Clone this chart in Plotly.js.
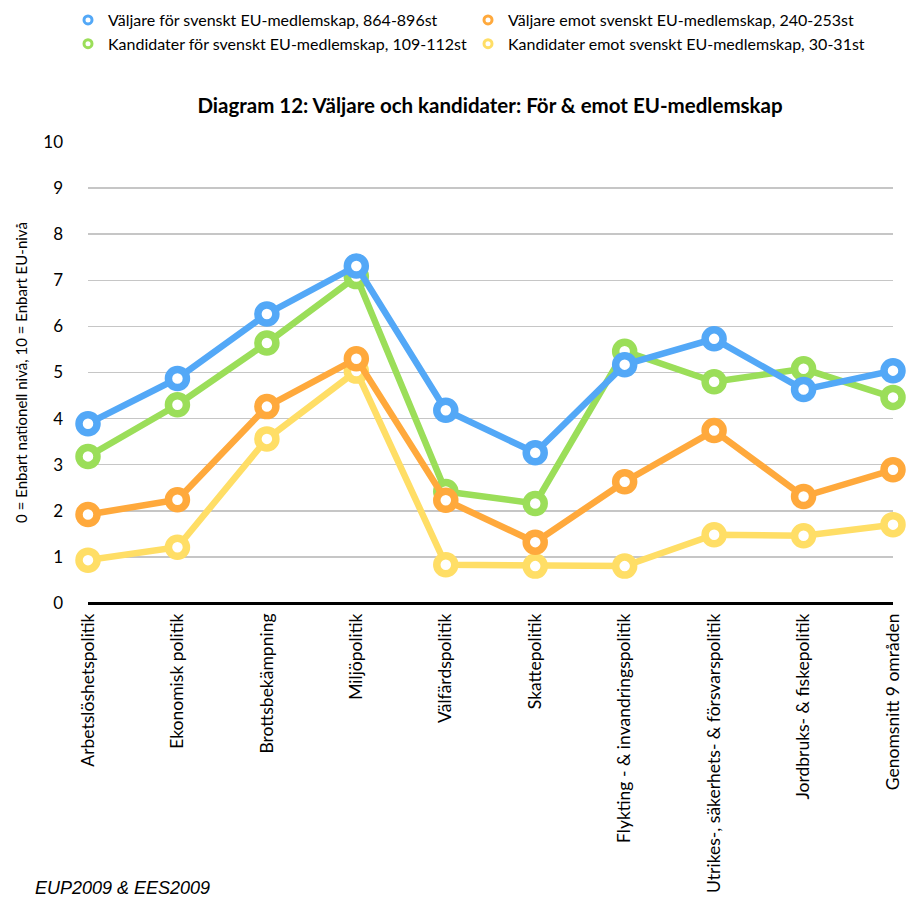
<!DOCTYPE html>
<html>
<head>
<meta charset="utf-8">
<script src="https://cdn.plot.ly/plotly-3.0.1.min.js"></script>
<style>html,body{margin:0;padding:0;background:#fff;}#chart{width:906px;height:899px;}</style>
</head>
<body>
<div id="chart"></div>
<script>
const categories = [
  "Arbetslöshetspolitik",
  "Ekonomisk politik",
  "Brottsbekämpning",
  "Miljöpolitik",
  "Välfärdspolitik",
  "Skattepolitik",
  "Flykting - & invandringspolitik",
  "Utrikes-, säkerhets- & försvarspolitik",
  "Jordbruks- & fiskepolitik",
  "Genomsnitt 9 områden"
];
const valjareFor = [3.89, 4.87, 6.27, 7.31, 4.18, 3.26, 5.17, 5.73, 4.63, 5.04];
const kandidaterFor = [3.18, 4.30, 5.64, 7.08, 2.42, 2.16, 5.46, 4.80, 5.08, 4.46];
const valjareEmot = [1.92, 2.24, 4.26, 5.30, 2.23, 1.32, 2.63, 3.74, 2.31, 2.89];
const kandidaterEmot = [0.93, 1.21, 3.56, 5.03, 0.83, 0.80, 0.80, 1.48, 1.46, 1.70];
const seriesNames = [
  "Väljare för svenskt EU-medlemskap, 864-896st",
  "Väljare emot svenskt EU-medlemskap, 240-253st",
  "Kandidater för svenskt EU-medlemskap, 109-112st",
  "Kandidater emot svenskt EU-medlemskap, 30-31st"
];
const yTicks = [0,1,2,3,4,5,6,7,8,9,10];

const colors = {blue:"#53A8F7", orange:"#FFA93C", green:"#9BDE59", yellow:"#FFDE66"};
const FONT = "Lato, 'Open Sans', sans-serif";

function lineTrace(y, color){
  return {
    x: categories, y: y, type: "scatter", mode: "lines+markers",
    showlegend: false, cliponaxis: false, hoverinfo: "skip",
    line: {color: color, width: 6.5},
    marker: {size: 18, color: "#ffffff", line: {color: color, width: 7.5}}
  };
}
function legendTrace(name, color, rank){
  return {
    x: [null], y: [null], type: "scatter", mode: "markers", name: name,
    legendrank: rank, showlegend: true,
    marker: {size: 8, color: "#ffffff", line: {color: color, width: 3}}
  };
}

const data = [
  lineTrace(kandidaterEmot, colors.yellow),
  lineTrace(kandidaterFor, colors.green),
  lineTrace(valjareEmot, colors.orange),
  lineTrace(valjareFor, colors.blue),
  legendTrace(seriesNames[0], colors.blue, 1),
  legendTrace(seriesNames[1], colors.orange, 2),
  legendTrace(seriesNames[2], colors.green, 3),
  legendTrace(seriesNames[3], colors.yellow, 4)
];

const layout = {
  width: 906, height: 899,
  paper_bgcolor: "#ffffff", plot_bgcolor: "#ffffff",
  margin: {l: 88, r: 13, t: 142, b: 296},
  font: {family: FONT, color: "#000000"},
  title: {
    text: "<b>Diagram 12: Väljare och kandidater: För & emot EU-medlemskap</b>",
    font: {family: FONT, size: 20.5, color: "#000"},
    x: 490/906, xanchor: "center", xref: "container",
    y: 1 - 106/899, yanchor: "middle", yref: "container"
  },
  showlegend: true,
  legend: {
    orientation: "h", traceorder: "normal",
    xref: "container", yref: "container",
    x: 68/906, xanchor: "left", y: 1 - 3/899, yanchor: "top",
    entrywidth: 355, entrywidthmode: "pixels",
    font: {family: FONT, size: 16, color: "#000"},
    tracegroupgap: 0, itemwidth: 30,
    bgcolor: "rgba(0,0,0,0)"
  },
  xaxis: {
    type: "category", range: [0, categories.length - 1],
    showgrid: false, zeroline: false, showline: false,
    tickangle: -90, tickfont: {family: FONT, size: 17.5, color: "#000"},
    ticks: "", ticklabelstandoff: 6, fixedrange: true
  },
  yaxis: {
    range: [0, 10], tickvals: yTicks, ticktext: yTicks.map(String),
    showgrid: true, gridcolor: "#c6c6c6", gridwidth: 1.5,
    zeroline: true, zerolinecolor: "#000000", zerolinewidth: 3,
    showline: false, ticks: "", ticklabelstandoff: 24,
    tickfont: {family: FONT, size: 17, color: "#000"},
    title: {text: "0 = Enbart nationell nivå, 10 = Enbart EU-nivå",
            font: {family: FONT, size: 15, color: "#000"}, standoff: 12},
    fixedrange: true
  },
  annotations: [{
    text: "<i>EUP2009 & EES2009</i>",
    xref: "paper", yref: "paper",
    x: (33 - 88) / 805, y: (603 - 888) / 461,
    showarrow: false, xanchor: "left", yanchor: "middle",
    font: {family: "'Liberation Sans', Arial, sans-serif", size: 18, color: "#000"}
  }]
};

Plotly.newPlot("chart", data, layout, {displayModeBar: false, staticPlot: true});
</script>
</body>
</html>
